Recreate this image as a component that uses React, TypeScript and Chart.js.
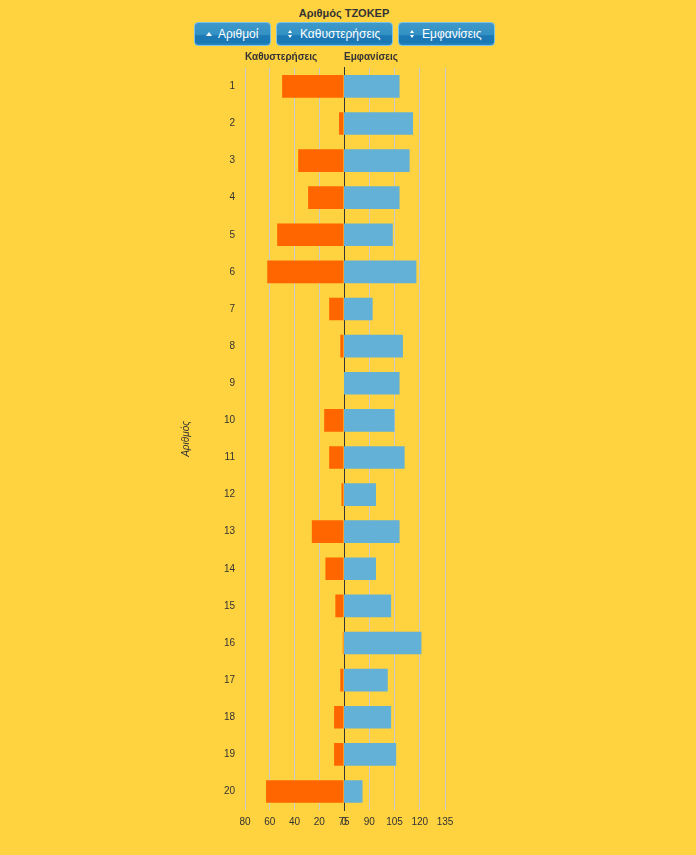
import React, { useEffect, useRef } from 'react';
import { Chart, registerables } from 'chart.js';

Chart.register(...registerables);

const numbers = ['1', '2', '3', '4', '5', '6', '7', '8', '9', '10', '11', '12', '13', '14', '15', '16', '17', '18', '19', '20'];
const delays = [50, 4, 37, 29, 54, 62, 12, 3, 0, 16, 12, 2, 26, 15, 7, 1, 3, 8, 8, 63];
const appearances = [108, 116, 114, 108, 104, 118, 92, 110, 108, 105, 111, 94, 108, 94, 103, 121, 101, 103, 106, 86];
const delayAxis = { min: 0, max: 80, step: 20 };
const appearanceAxis = { min: 75, max: 135, step: 15 };

const FONT = "'Liberation Sans', Arial, sans-serif";
const BG = '#FFD23F';
const ORANGE = '#FF6600';
const BLUE = '#64B1D7';
const GRID = '#c9c9c9';
const DARK = '#333333';

const titleFont = { size: 10, weight: 'bold' as const, family: FONT };
const tickFont = { size: 10, family: FONT };

const CANVAS_TOP = 40;
const CANVAS_H = 806;

function baseXScale(min: number, max: number, step: number, reverse: boolean) {
  return {
    type: 'linear' as const,
    reverse,
    min,
    max,
    ticks: { stepSize: step, color: DARK, font: tickFont, padding: 6, maxRotation: 0, autoSkip: false },
    grid: { color: GRID, drawTicks: false, lineWidth: 1 },
    border: { display: false },
  };
}

function DelaysChart() {
  const ref = useRef<HTMLCanvasElement>(null);
  useEffect(() => {
    const chart = new Chart(ref.current!, {
      type: 'bar',
      data: {
        labels: numbers,
        datasets: [{ data: delays, backgroundColor: ORANGE, barPercentage: 0.61, categoryPercentage: 1 }],
      },
      options: {
        indexAxis: 'y',
        responsive: false,
        animation: false,
        layout: { padding: { left: 0, right: 17, top: 0, bottom: 12 } },
        plugins: {
          legend: { display: false },
          tooltip: { enabled: false },
          title: {
            display: true,
            text: 'Καθυστερήσεις',
            align: 'start',
            fullSize: false,
            color: DARK,
            font: titleFont,
            padding: { top: 11.5, bottom: 4.3 },
          },
        },
        scales: {
          x: baseXScale(delayAxis.min, delayAxis.max, delayAxis.step, true),
          y: {
            ticks: { color: DARK, font: tickFont, padding: 10 },
            grid: { display: false, drawTicks: false },
            border: { display: false },
            title: { display: true, text: 'Αριθμός', color: DARK, font: { size: 10, style: 'italic', family: FONT }, padding: 4 },
            afterFit: (s: any) => {
              s.width = 69;
            },
          },
        },
      } as any,
    });
    return () => chart.destroy();
  }, []);
  return (
    <canvas
      ref={ref}
      width={185}
      height={CANVAS_H}
      style={{ position: 'absolute', left: 176, top: CANVAS_TOP, width: 185, height: CANVAS_H }}
    />
  );
}

function AppearancesChart() {
  const ref = useRef<HTMLCanvasElement>(null);
  useEffect(() => {
    const chart = new Chart(ref.current!, {
      type: 'bar',
      data: {
        labels: numbers,
        datasets: [{ data: appearances, backgroundColor: BLUE, barPercentage: 0.61, categoryPercentage: 1 }],
      },
      options: {
        indexAxis: 'y',
        responsive: false,
        animation: false,
        layout: { padding: { left: 14, right: 20, top: 0, bottom: 12 } },
        plugins: {
          legend: { display: false },
          tooltip: { enabled: false },
          title: {
            display: true,
            text: 'Εμφανίσεις',
            align: 'start',
            fullSize: false,
            color: DARK,
            font: titleFont,
            padding: { top: 11.5, bottom: 4.3 },
          },
        },
        scales: {
          x: baseXScale(appearanceAxis.min, appearanceAxis.max, appearanceAxis.step, false),
          y: {
            z: 1,
            ticks: { display: false },
            grid: { display: false, drawTicks: false },
            border: { display: true, color: DARK, width: 1 },
          },
        },
      } as any,
    });
    return () => chart.destroy();
  }, []);
  return (
    <canvas
      ref={ref}
      width={135}
      height={CANVAS_H}
      style={{ position: 'absolute', left: 330, top: CANVAS_TOP, width: 135, height: CANVAS_H }}
    />
  );
}

function UpIcon() {
  return (
    <span
      style={{
        position: 'absolute',
        left: 11,
        top: 9,
        width: 0,
        height: 0,
        borderLeft: '3.5px solid transparent',
        borderRight: '3.5px solid transparent',
        borderBottom: '4px solid #fff',
      }}
    />
  );
}

function SortIcon() {
  return (
    <>
      <span
        style={{
          position: 'absolute',
          left: 11,
          top: 7,
          width: 0,
          height: 0,
          borderLeft: '2.5px solid transparent',
          borderRight: '2.5px solid transparent',
          borderBottom: '3px solid #fff',
        }}
      />
      <span
        style={{
          position: 'absolute',
          left: 11,
          top: 12,
          width: 0,
          height: 0,
          borderLeft: '2.5px solid transparent',
          borderRight: '2.5px solid transparent',
          borderTop: '3px solid #fff',
        }}
      />
    </>
  );
}

function Btn({ left, width, text, up }: { left: number; width: number; text: string; up?: boolean }) {
  return (
    <div
      style={{
        position: 'absolute',
        left,
        top: 22,
        width,
        height: 24,
        boxSizing: 'border-box',
        borderRadius: 4,
        border: '1px solid #7cc3ea',
        background: 'linear-gradient(to bottom, #3f99c9 0%, #3391c4 52%, #1c79b5 58%, #1a78b4 88%, #2b88c2 100%)',
        color: '#fff',
        fontFamily: FONT,
        fontSize: 12,
      }}
    >
      {up ? <UpIcon /> : <SortIcon />}
      <span style={{ position: 'absolute', left: 23, top: 4, lineHeight: '14px', whiteSpace: 'nowrap' }}>{text}</span>
    </div>
  );
}

export default function App() {
  useEffect(() => {
    document.body.style.margin = '0';
    document.body.style.background = BG;
    document.documentElement.style.background = BG;
  }, []);
  return (
    <div style={{ position: 'relative', width: 696, height: 855, background: BG, overflow: 'hidden', fontFamily: FONT }}>
      <div
        style={{
          position: 'absolute',
          left: 244,
          width: 200,
          top: 7,
          textAlign: 'center',
          fontSize: 11,
          fontWeight: 'bold',
          color: DARK,
          lineHeight: '13px',
        }}
      >
        Αριθμός ΤΖΟΚΕΡ
      </div>
      <Btn left={194} width={77} text="Αριθμοί" up />
      <Btn left={276} width={117} text="Καθυστερήσεις" />
      <Btn left={398} width={97} text="Εμφανίσεις" />
      <DelaysChart />
      <AppearancesChart />
    </div>
  );
}
